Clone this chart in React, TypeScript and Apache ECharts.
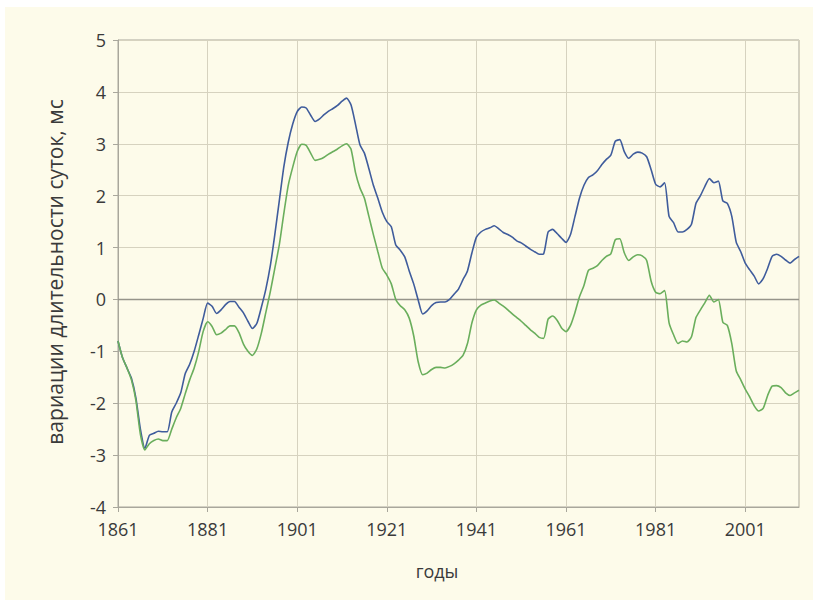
import React, { useEffect, useRef } from "react";
import * as echarts from "echarts";

const START_YEAR = 1861;
const END_YEAR = 2013;
const X_TICK_YEARS = [1861, 1881, 1901, 1921, 1941, 1961, 1981, 2001];
const Y_MIN = -4;
const Y_MAX = 5;
const X_TITLE = "годы";
const Y_TITLE = "вариации длительности суток, мс";

// Blue series, yearly values 1861..2013
const blueValues = [
  -0.8, -1.12, -1.32, -1.52, -1.9, -2.5, -2.87, -2.62, -2.58, -2.54,
  -2.55, -2.55, -2.17, -2.0, -1.8, -1.43, -1.25, -1.0, -0.69, -0.37,
  -0.07, -0.13, -0.27, -0.2, -0.1, -0.04, -0.04, -0.15, -0.26, -0.42,
  -0.56, -0.46, -0.15, 0.2, 0.65, 1.25, 1.9, 2.55, 3.03, 3.38,
  3.62, 3.71, 3.69, 3.55, 3.43, 3.48, 3.56, 3.63, 3.68, 3.74,
  3.82, 3.88, 3.75, 3.38, 2.98, 2.82, 2.52, 2.2, 1.95, 1.68,
  1.5, 1.4, 1.05, 0.95, 0.82, 0.55, 0.3, -0.01, -0.28, -0.22,
  -0.12, -0.06, -0.05, -0.05, 0.0, 0.1, 0.2, 0.38, 0.55, 0.9,
  1.2, 1.3, 1.35, 1.38, 1.42, 1.36, 1.29, 1.25, 1.2, 1.13,
  1.09, 1.03, 0.97, 0.92, 0.87, 0.88, 1.3, 1.35, 1.27, 1.18,
  1.1, 1.25, 1.6, 1.95, 2.2, 2.35, 2.4, 2.48, 2.6, 2.7,
  2.78, 3.05, 3.08, 2.85, 2.72, 2.8, 2.84, 2.82, 2.75, 2.5,
  2.22, 2.17, 2.25, 1.6, 1.48, 1.3, 1.3, 1.35, 1.45, 1.85,
  2.0, 2.18, 2.33, 2.25, 2.28, 1.9, 1.85, 1.6, 1.1, 0.92,
  0.7, 0.57, 0.45, 0.3, 0.4, 0.6, 0.83, 0.87, 0.83, 0.76,
  0.7, 0.77, 0.83,
];

// Green series, yearly values 1861..2013
const greenValues = [
  -0.8, -1.12, -1.32, -1.55, -1.95, -2.6, -2.9, -2.78, -2.72, -2.69,
  -2.72, -2.72, -2.5, -2.28, -2.1, -1.82, -1.55, -1.32, -1.01, -0.62,
  -0.43, -0.52, -0.68, -0.65, -0.58, -0.51, -0.51, -0.64, -0.86, -1.0,
  -1.08, -0.95, -0.65, -0.25, 0.15, 0.6, 1.05, 1.65, 2.2, 2.55,
  2.85, 2.99, 2.97, 2.82, 2.68, 2.7, 2.74, 2.8, 2.85, 2.9,
  2.96, 3.0, 2.9, 2.45, 2.15, 1.95, 1.6, 1.25, 0.92, 0.6,
  0.47, 0.3, 0.0, -0.12, -0.2, -0.36, -0.7, -1.2, -1.45, -1.42,
  -1.35, -1.31, -1.31, -1.32, -1.29, -1.24, -1.17, -1.08, -0.85, -0.45,
  -0.2, -0.11, -0.07, -0.03, -0.01, -0.07, -0.13, -0.2, -0.28, -0.35,
  -0.42, -0.5, -0.58, -0.65, -0.73, -0.75, -0.38, -0.32, -0.4, -0.55,
  -0.62, -0.5, -0.25, 0.05, 0.27, 0.56, 0.6, 0.65, 0.75, 0.83,
  0.88, 1.15, 1.17, 0.9, 0.75, 0.82, 0.86, 0.84, 0.75, 0.35,
  0.14, 0.11, 0.17, -0.45, -0.68, -0.85, -0.8, -0.82, -0.72, -0.35,
  -0.2, -0.06, 0.08, -0.05, 0.0, -0.44, -0.5, -0.85, -1.38, -1.55,
  -1.73, -1.88, -2.05, -2.15, -2.1, -1.85, -1.67, -1.66, -1.7, -1.8,
  -1.85, -1.8, -1.75,
];

const FONT = '"Open Sans", sans-serif';
const TEXT_COLOR = "#3a3a3a";

export default function App() {
  const ref = useRef<HTMLDivElement>(null);

  useEffect(() => {
    document.body.style.margin = "0";
    const chart = echarts.init(ref.current!, null, { renderer: "svg" });
    const toPairs = (vals: number[]) => vals.map((v, i) => [START_YEAR + i, v]);

    chart.setOption({
      animation: false,
      backgroundColor: "transparent",
      graphic: [
        {
          type: "text",
          x: 437,
          y: 571,
          style: {
            text: X_TITLE,
            font: `18px ${FONT}`,
            fill: TEXT_COLOR,
            textAlign: "center",
            textVerticalAlign: "middle",
          },
        },
        {
          type: "text",
          x: 55,
          y: 272,
          rotation: Math.PI / 2,
          style: {
            text: Y_TITLE,
            font: `21px ${FONT}`,
            fill: TEXT_COLOR,
            textAlign: "center",
            textVerticalAlign: "middle",
          },
        },
      ],
      grid: {
        left: 118,
        right: 20,
        top: 40,
        bottom: 100,
        show: true,
        borderColor: "#a9a79c",
        borderWidth: 1,
        backgroundColor: "transparent",
      },
      xAxis: {
        type: "value",
        min: START_YEAR,
        max: END_YEAR,
        interval: 20,
        axisLine: { show: true, onZero: false, lineStyle: { color: "#a9a79c", width: 1 } },
        axisTick: { show: true, length: 5, lineStyle: { color: "#a9a79c" } },
        axisLabel: {
          margin: 13,
          color: TEXT_COLOR,
          fontFamily: FONT,
          fontSize: 18,
          showMaxLabel: false,
          formatter: (v: number) => (X_TICK_YEARS.includes(v) ? String(v) : ""),
        },
        splitLine: { show: true, lineStyle: { color: "#d6d2bf", width: 1 } },
      },
      yAxis: {
        type: "value",
        min: Y_MIN,
        max: Y_MAX,
        interval: 1,
        axisLine: { show: true, lineStyle: { color: "#a9a79c", width: 1 } },
        axisTick: { show: true, length: 5, lineStyle: { color: "#a9a79c" } },
        axisLabel: {
          margin: 12,
          color: TEXT_COLOR,
          fontFamily: FONT,
          fontSize: 18,
          formatter: (v: number) => String(v),
        },
        splitLine: { show: true, lineStyle: { color: "#d6d2bf", width: 1 } },
      },
      series: [
        {
          type: "line",
          name: "blue",
          data: toPairs(blueValues),
          showSymbol: false,
          smooth: 0.2,
          lineStyle: { color: "#3f5c9c", width: 1.6 },
          itemStyle: { color: "#3f5c9c" },
          z: 3,
          markLine: {
            silent: true,
            symbol: "none",
            label: { show: false },
            lineStyle: { color: "#96948a", width: 1.3, type: "solid" },
            data: [{ yAxis: 0 }],
            z: 1,
          },
        },
        {
          type: "line",
          name: "green",
          data: toPairs(greenValues),
          showSymbol: false,
          smooth: 0.2,
          lineStyle: { color: "#6aae5c", width: 1.6 },
          itemStyle: { color: "#6aae5c" },
          z: 3,
        },
      ],
    });
    return () => chart.dispose();
  }, []);

  return (
    <div style={{ position: "relative", width: 819, height: 607, background: "#ffffff" }}>
      <div
        style={{
          position: "absolute",
          left: 5,
          top: 7,
          width: 808,
          height: 593,
          background: "#fdfbea",
        }}
      />
      <div ref={ref} style={{ position: "absolute", left: 0, top: 0, width: 819, height: 607 }} />
    </div>
  );
}
